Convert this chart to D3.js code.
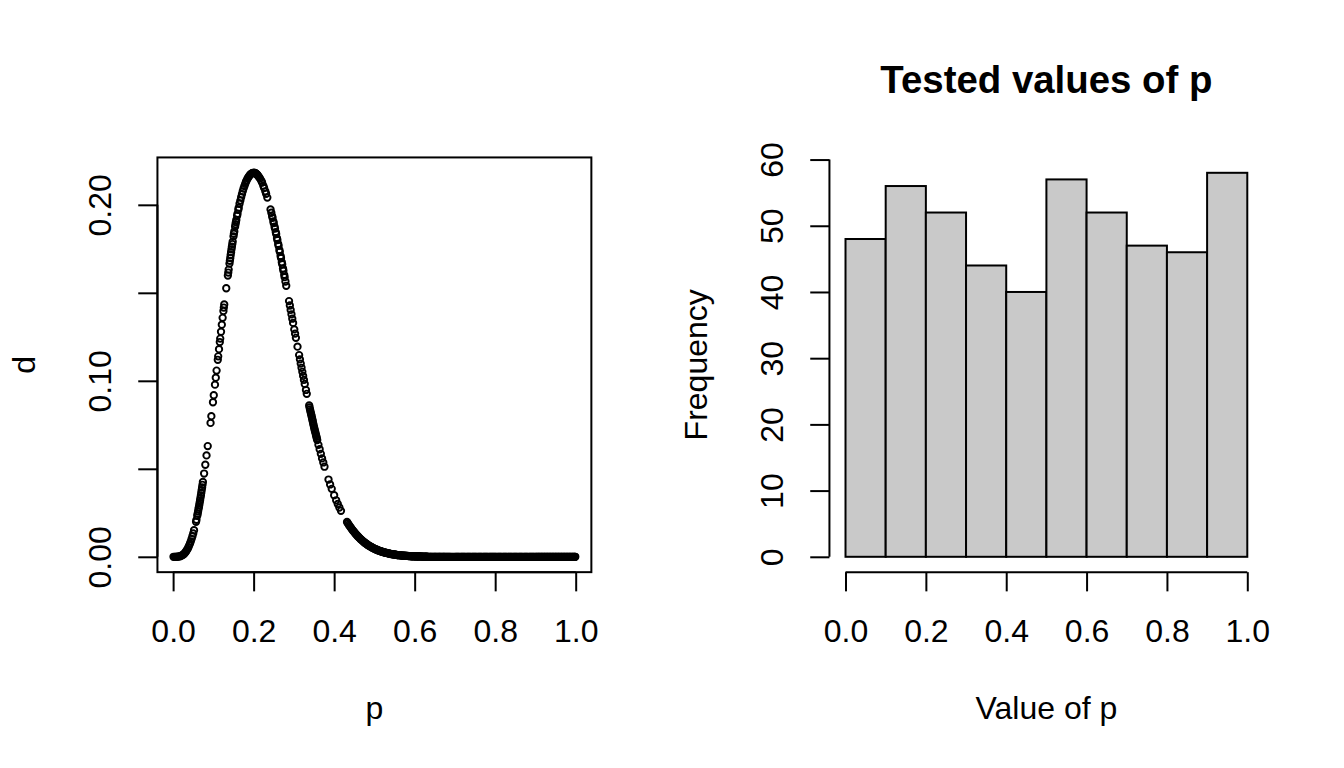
<!DOCTYPE html>
<html><head><meta charset="utf-8">
<script src="https://cdn.jsdelivr.net/npm/d3@7"></script>
<style>
html,body{margin:0;padding:0;background:#fff;}
svg{display:block;}
text{font-family:"Liberation Sans", Arial, Helvetica, sans-serif;fill:#000;}
</style>
</head><body>
<svg id="chart" width="1344" height="768"></svg>
<script>
// ---------- DATA ----------
// sampled p values (left panel x)
const pSample = [
// 0.0-0.1
0.001,0.004,0.006,0.008,0.011,0.013,0.016,0.019,0.021,0.024,
0.026,0.028,0.030,0.032,0.034,0.036,0.038,0.040,0.042,0.044,
0.046,0.048,0.050,0.052,0.057,0.058,0.060,0.061,0.062,0.063,
0.064,0.065,0.066,0.067,0.068,0.069,0.070,0.071,0.072,0.073,
0.074,0.077,0.080,0.083,0.086,0.093,0.095,0.099,
// 0.1-0.2
0.101,0.104,0.106,0.108,0.111,0.112,0.114,0.116,0.117,0.119,
0.121,0.123,0.125,0.126,0.127,0.132,0.136,0.137,0.138,0.140,
0.141,0.142,0.143,0.144,0.145,0.146,0.147,0.148,0.150,0.151,
0.152,0.154,0.155,0.156,0.157,0.159,0.160,0.162,0.163,0.165,
0.167,0.169,0.171,0.173,0.175,0.177,0.179,0.181,0.183,0.185,
0.187,0.189,0.191,0.193,0.196,0.198,
// 0.2-0.3
0.200,0.201,0.202,0.203,0.204,0.205,0.206,0.207,0.209,0.210,
0.212,0.214,0.216,0.219,0.221,0.224,0.226,0.229,0.231,0.234,
0.242,0.244,0.246,0.247,0.249,0.250,0.252,0.253,0.255,0.256,
0.258,0.259,0.261,0.262,0.264,0.265,0.267,0.268,0.270,0.271,
0.273,0.274,0.276,0.277,0.279,0.281,0.288,0.290,0.292,0.294,
0.296,0.298,
// 0.3-0.4
0.301,0.303,0.305,0.309,0.313,0.315,0.317,0.319,0.321,0.323,
0.325,0.327,0.330,0.332,0.338,0.339,0.340,0.341,0.342,0.343,
0.344,0.345,0.346,0.347,0.348,0.349,0.350,0.351,0.352,0.353,
0.354,0.355,0.356,0.357,0.358,0.361,0.364,0.367,0.370,0.373,
0.376,0.386,0.390,0.394,
// 0.4-0.5
0.400,0.405,0.409,0.413,0.417,0.432,0.434,0.436,0.438,0.440,
0.442,0.444,0.446,0.448,0.450,0.452,0.454,0.456,0.458,0.460,
0.462,0.464,0.466,0.468,0.470,0.472,0.474,0.476,0.478,0.480,
0.482,0.484,0.486,0.488,0.490,0.492,0.494,0.496,0.497,0.499,
// 0.5-0.6
0.501,0.503,0.505,0.506,0.508,0.510,0.511,0.513,0.515,0.517,
0.518,0.520,0.522,0.524,0.525,0.527,0.529,0.530,0.532,0.534,
0.536,0.537,0.539,0.541,0.543,0.544,0.546,0.548,0.550,0.551,
0.553,0.555,0.557,0.558,0.560,0.562,0.564,0.565,0.567,0.569,
0.571,0.572,0.574,0.576,0.578,0.579,0.581,0.583,0.585,0.586,
0.588,0.590,0.592,0.593,0.595,0.597,0.599,
// 0.6-0.7
0.601,0.603,0.604,0.606,0.608,0.610,0.611,0.613,0.615,0.617,
0.619,0.620,0.622,0.624,0.626,0.628,0.629,0.631,0.633,0.635,
0.637,0.639,0.640,0.642,0.644,0.646,0.648,0.650,0.651,0.653,
0.655,0.657,0.659,0.661,0.662,0.664,0.666,0.668,0.670,0.672,
0.673,0.675,0.677,0.679,0.681,0.683,0.685,0.687,0.689,0.692,
0.695,0.698,
// 0.7-0.8
0.701,0.703,0.705,0.707,0.709,0.711,0.714,0.716,0.718,0.720,
0.722,0.724,0.726,0.729,0.731,0.733,0.735,0.737,0.739,0.742,
0.744,0.746,0.748,0.750,0.752,0.754,0.757,0.759,0.761,0.763,
0.765,0.767,0.770,0.772,0.774,0.776,0.778,0.780,0.782,0.785,
0.787,0.789,0.791,0.793,0.795,0.797,0.799,
// 0.8-0.9
0.801,0.803,0.806,0.808,0.810,0.812,0.814,0.816,0.819,0.821,
0.823,0.825,0.827,0.829,0.832,0.834,0.836,0.838,0.840,0.842,
0.845,0.847,0.849,0.851,0.853,0.855,0.858,0.860,0.862,0.864,
0.866,0.868,0.871,0.873,0.875,0.877,0.879,0.881,0.884,0.886,
0.888,0.890,0.892,0.894,0.896,0.898,
// 0.9-1.0
0.901,0.902,0.904,0.906,0.908,0.909,0.911,0.913,0.915,0.916,
0.918,0.920,0.922,0.923,0.925,0.927,0.929,0.930,0.932,0.934,
0.936,0.937,0.939,0.941,0.943,0.944,0.946,0.948,0.950,0.951,
0.953,0.955,0.957,0.958,0.960,0.962,0.964,0.965,0.967,0.969,
0.971,0.972,0.974,0.976,0.978,0.979,0.981,0.983,0.985,0.986,
0.988,0.990,0.992,0.993,0.995,0.997,0.998,0.999
];
// density d read at each sampled p (left panel y)
const dSample = [
// 0.0-0.1
0,0,0,0,0.0001,0.0001,0.0002,0.0005,0.0007,0.0011,
0.0014,0.0019,0.0024,0.0030,0.0037,0.0045,0.0054,0.0065,0.0076,0.0088,
0.0102,0.0117,0.0133,0.0151,0.0199,0.0210,0.0233,0.0245,0.0257,0.0270,
0.0282,0.0295,0.0308,0.0321,0.0335,0.0349,0.0364,0.0379,0.0394,0.0409,
0.0425,0.0473,0.0523,0.0576,0.0629,0.0761,0.0799,0.0878,
// 0.1-0.2
0.0918,0.0978,0.1018,0.1058,0.1119,0.1139,0.1180,0.1220,0.1240,0.1279,
0.1319,0.1358,0.1397,0.1416,0.1434,0.1526,0.1598,0.1615,0.1632,0.1666,
0.1682,0.1698,0.1715,0.1731,0.1747,0.1762,0.1777,0.1791,0.1821,0.1835,
0.1849,0.1876,0.1890,0.1902,0.1914,0.1938,0.1950,0.1972,0.1984,0.2006,
0.2024,0.2043,0.2060,0.2077,0.2093,0.2106,0.2119,0.2131,0.2140,0.2150,
0.2157,0.2164,0.2170,0.2175,0.2180,0.2181,
// 0.2-0.3
0.2182,0.2182,0.2181,0.2181,0.2180,0.2179,0.2177,0.2175,0.2172,0.2168,
0.2162,0.2156,0.2149,0.2137,0.2127,0.2109,0.2096,0.2077,0.2063,0.2041,
0.1974,0.1955,0.1936,0.1926,0.1906,0.1896,0.1876,0.1865,0.1845,0.1834,
0.1811,0.1800,0.1778,0.1767,0.1744,0.1733,0.1709,0.1698,0.1674,0.1662,
0.1638,0.1626,0.1602,0.1589,0.1564,0.1540,0.1453,0.1428,0.1403,0.1378,
0.1353,0.1329,
// 0.3-0.4
0.1292,0.1268,0.1244,0.1194,0.1146,0.1122,0.1098,0.1074,0.1051,0.1028,
0.1005,0.0982,0.0948,0.0926,0.0860,0.0849,0.0838,0.0828,0.0818,0.0809,
0.0799,0.0789,0.0779,0.0769,0.0757,0.0747,0.0737,0.0728,0.0718,0.0710,
0.0700,0.0691,0.0682,0.0672,0.0663,0.0636,0.0611,0.0585,0.0559,0.0536,
0.0512,0.0439,0.0411,0.0386,
// 0.4-0.5
0.0350,0.0321,0.0300,0.0280,0.0261,0.0198,0.0191,0.0183,0.0177,0.0170,
0.0164,0.0157,0.0151,0.0146,0.0140,0.0134,0.0129,0.0124,0.0118,0.0114,
0.0109,0.0105,0.0100,0.0096,0.0092,0.0088,0.0084,0.0080,0.0077,0.0074,
0.0070,0.0067,0.0064,0.0061,0.0059,0.0056,0.0053,0.0051,0.0050,0.0047,
// 0.5-0.6
0.0045,0.0043,0.0041,0.0040,0.0038,0.0036,0.0035,0.0034,0.0032,0.0030,
0.0030,0.0028,0.0027,0.0025,0.0025,0.0023,0.0022,0.0022,0.0021,0.0020,
0.0019,0.0018,0.0017,0.0016,0.0015,0.0015,0.0014,0.0013,0.0013,0.0012,
0.0012,0.0011,0.0010,0.0010,0.0009,0.0009,0.0008,0.0008,0.0008,0.0007,
0.0007,0.0006,0.0006,0.0006,0.0005,0.0005,0.0005,0.0005,0.0004,0.0004,
0.0004,0.0004,0.0003,0.0003,0.0003,0.0003,0.0003,
// 0.6-0.7
0.0003,0.0002,0.0002,0.0002,0.0002,0.0002,0.0002,0.0002,0.0002,0.0001,
0.0001,0.0001,0.0001,0.0001,0.0001,0.0001,0.0001,0.0001,0,0,
0,0,0,0,0,0,0,0,0,0,
0,0,0,0,0,0,0,0,0,0,
0,0,0,0,0,0,0,0,0,0,
0,0,
// 0.7-0.8
0,0,0,0,0,0,0,0,0,0,
0,0,0,0,0,0,0,0,0,0,
0,0,0,0,0,0,0,0,0,0,
0,0,0,0,0,0,0,0,0,0,
0,0,0,0,0,0,0,
// 0.8-0.9
0,0,0,0,0,0,0,0,0,0,
0,0,0,0,0,0,0,0,0,0,
0,0,0,0,0,0,0,0,0,0,
0,0,0,0,0,0,0,0,0,0,
0,0,0,0,0,0,
// 0.9-1.0
0,0,0,0,0,0,0,0,0,0,
0,0,0,0,0,0,0,0,0,0,
0,0,0,0,0,0,0,0,0,0,
0,0,0,0,0,0,0,0,0,0,
0,0,0,0,0,0,0,0,0,0,
0,0,0,0,0,0,0,0
];
// histogram
const binEdges = [0,0.1,0.2,0.3,0.4,0.5,0.6,0.7,0.8,0.9,1.0];
const binCounts = [48,56,52,44,40,57,52,47,46,58];
// axes
const leftXTicks = [0,0.2,0.4,0.6,0.8,1.0];
const leftXLabels = ["0.0","0.2","0.4","0.6","0.8","1.0"];
const leftYTicks = [0,0.05,0.10,0.15,0.20];
const leftYLabels = ["0.00","","0.10","","0.20"];
const histXTicks = [0,0.2,0.4,0.6,0.8,1.0];
const histXLabels = ["0.0","0.2","0.4","0.6","0.8","1.0"];
const histYTicks = [0,10,20,30,40,50,60];
const histYLabels = ["0","10","20","30","40","50","60"];
const leftXTitle = "p", leftYTitle = "d";
const histTitle = "Tested values of p", histXTitle = "Value of p", histYTitle = "Frequency";

// ---------- LAYOUT ----------
const W = 1344, H = 768, LINE = 38.4, FS = 32, TICK = 19.2;
const panelW = W / 2;
const mar = {b:5.1*LINE, l:4.1*LINE, t:4.1*LINE, r:2.1*LINE};
const svg = d3.select("#chart");
svg.append("rect").attr("width",W).attr("height",H).attr("fill","#fff");

function pad(lo, hi){ const r = hi - lo; return [lo - 0.04*r, hi + 0.04*r]; }

function region(i){
  const x0 = i*panelW + mar.l, x1 = (i+1)*panelW - mar.r;
  const y0 = mar.t, y1 = H - mar.b;
  return {x0,x1,y0,y1,cx:(x0+x1)/2, cy:(y0+y1)/2};
}

function bottomAxis(g, scale, ticks, labels, yPos){
  const ax = d3.axisBottom(scale).tickValues(ticks).tickFormat((d,i)=>labels[i])
    .tickSize(TICK).tickSizeOuter(0);
  const a = g.append("g").attr("transform",`translate(0,${yPos})`).call(ax);
  a.select(".domain").remove();
  a.append("line").attr("x1",scale(ticks[0])).attr("x2",scale(ticks[ticks.length-1]))
    .attr("y1",0).attr("y2",0).attr("stroke","#000");
  a.attr("font-size",FS).attr("font-family",null).attr("stroke-width",2);
  a.selectAll(".tick line").attr("stroke","#000");
  a.selectAll(".tick text").attr("y",69.8).attr("dy",null).attr("fill","#000");
  return a;
}
function leftAxis(g, scale, ticks, labels, xPos){
  const ax = d3.axisLeft(scale).tickValues(ticks).tickFormat((d,i)=>labels[i])
    .tickSize(TICK).tickSizeOuter(0);
  const a = g.append("g").attr("transform",`translate(${xPos},0)`).call(ax);
  a.select(".domain").remove();
  a.append("line").attr("y1",scale(ticks[0])).attr("y2",scale(ticks[ticks.length-1]))
    .attr("x1",0).attr("x2",0).attr("stroke","#000");
  a.attr("font-size",FS).attr("font-family",null).attr("stroke-width",2);
  a.selectAll(".tick line").attr("stroke","#000");
  a.selectAll(".tick text").attr("x",null).attr("dy",null)
    .attr("transform","translate(-46.4,0) rotate(-90)")
    .attr("text-anchor","middle").attr("fill","#000");
  return a;
}

// ---------- LEFT PANEL: scatter ----------
{
  const R = region(0);
  const g = svg.append("g");
  const x = d3.scaleLinear().domain(pad(d3.min(pSample), d3.max(pSample))).range([R.x0, R.x1]);
  const y = d3.scaleLinear().domain(pad(d3.min(dSample), d3.max(dSample))).range([R.y1, R.y0]);
  const pts = pSample.map((p,i)=>({p, d:dSample[i]})).filter(o=>o.d!==undefined);
  g.append("g").selectAll("circle").data(pts).join("circle")
    .attr("cx",o=>x(o.p)).attr("cy",o=>y(o.d)).attr("r",3.2)
    .attr("fill","none").attr("stroke","#000").attr("stroke-width",1.9);
  g.append("rect").attr("x",R.x0).attr("y",R.y0).attr("width",R.x1-R.x0).attr("height",R.y1-R.y0)
    .attr("fill","none").attr("stroke","#000").attr("stroke-width",2);
  bottomAxis(g, x, leftXTicks, leftXLabels, R.y1);
  leftAxis(g, y, leftYTicks, leftYLabels, R.x0);
  g.append("text").attr("x",R.cx).attr("y",719).attr("text-anchor","middle")
    .attr("font-size",FS).text(leftXTitle);
  g.append("text").attr("transform",`translate(${R.x0-122.4},${R.cy}) rotate(-90)`)
    .attr("text-anchor","middle").attr("font-size",FS).text(leftYTitle);
}

// ---------- RIGHT PANEL: histogram ----------
{
  const R = region(1);
  const g = svg.append("g");
  const x = d3.scaleLinear().domain(pad(binEdges[0], binEdges[binEdges.length-1])).range([R.x0, R.x1]);
  const y = d3.scaleLinear().domain(pad(0, d3.max(binCounts))).range([R.y1, R.y0]);
  const bars = binCounts.map((c,i)=>({x0:binEdges[i], x1:binEdges[i+1], c}));
  g.append("g").selectAll("rect").data(bars).join("rect")
    .attr("x",b=>x(b.x0)).attr("width",b=>x(b.x1)-x(b.x0))
    .attr("y",b=>y(b.c)).attr("height",b=>y(0)-y(b.c))
    .attr("fill","#c9c9c9").attr("stroke","#000").attr("stroke-width",2);
  bottomAxis(g, x, histXTicks, histXLabels, R.y1);
  leftAxis(g, y, histYTicks, histYLabels, R.x0);
  g.append("text").attr("x",R.cx).attr("y",93.3).attr("text-anchor","middle")
    .attr("font-size",FS*1.2).attr("font-weight","bold").text(histTitle);
  g.append("text").attr("x",R.cx).attr("y",719).attr("text-anchor","middle")
    .attr("font-size",FS).text(histXTitle);
  g.append("text").attr("transform",`translate(${R.x0-122.4},${R.cy}) rotate(-90)`)
    .attr("text-anchor","middle").attr("font-size",FS).text(histYTitle);
}
</script>
</body></html>
